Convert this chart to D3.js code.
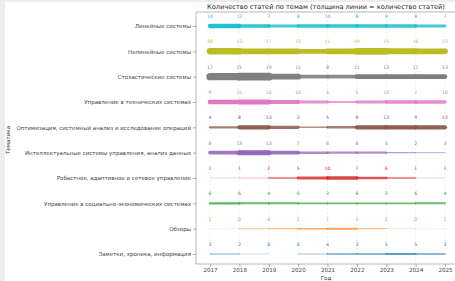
<!DOCTYPE html>
<html lang="ru">
<head>
<meta charset="UTF-8">
<title>Темы статей</title>
<script src="https://cdn.jsdelivr.net/npm/d3@7"></script>
<style>
	html,body{margin:0;padding:0;background:#ededed;}
	svg{display:block;font-family:"DejaVu Sans",sans-serif;}
</style>
</head>
<body>
<svg id="chart" width="455" height="281"></svg>
<script>
// categories, top to bottom
var topics = [
	"Линейные системы",
	"Нелинейные системы",
	"Стохастические системы",
	"Управление в технических системах",
	"Оптимизация, системный анализ и исследование операций",
	"Интеллектуальные системы управления, анализ данных",
	"Робастное, адаптивное и сетевое управление",
	"Управление в социально-экономических системах",
	"Обзоры",
	"Заметки, хроника, информация"
];
var years = [2017, 2018, 2019, 2020, 2021, 2022, 2023, 2024, 2025];

// article counts per year, one array per topic
var linear     = [10, 12, 7, 8, 10, 8, 9, 8, 7];
var nonlinear  = [20, 13, 17, 13, 11, 19, 15, 16, 13];
var stochastic = [17, 21, 19, 11, 8, 11, 13, 11, 13];
var technical  = [9, 15, 10, 10, 5, 5, 10, 7, 10];
var optim      = [4, 8, 13, 3, 5, 8, 13, 9, 12];
var intel      = [6, 13, 13, 7, 6, 6, 5, 2, 3];
var robust     = [1, 1, 2, 5, 10, 7, 6, 1, 1];
var socio      = [6, 6, 4, 6, 3, 6, 3, 6, 4];
var reviews    = [1, 0, 4, 1, 7, 3, 2, 0, 1];
var notes      = [3, 2, 0, 0, 4, 3, 5, 5, 3];

var counts = [linear, nonlinear, stochastic, technical, optim, intel, robust, socio, reviews, notes];
var colors = ["#17becf", "#bcbd22", "#7f7f7f", "#e377c2", "#8c564b",
	"#9467bd", "#d62728", "#2ca02c", "#ff7f0e", "#1f77b4"];

var svg = d3.select("#chart");
var W = 455, H = 281;
var m = {left: 196, right: -6, top: 12, bottom: 17};

svg.append("rect").attr("x", 5).attr("y", 2).attr("width", W - 5).attr("height", H - 2).attr("fill", "#fff");

var x = d3.scalePoint().domain(years).range([210, 445]);
var y = d3.scalePoint().domain(topics).range([26, 254]);

// plot frame
svg.append("rect")
	.attr("x", m.left).attr("y", m.top)
	.attr("width", W - m.right - m.left).attr("height", H - m.bottom - m.top)
	.attr("fill", "none").attr("stroke", "#999").attr("stroke-width", 0.7);

// faint vertical grid
svg.append("g").selectAll("line").data(years).enter().append("line")
	.attr("x1", d => x(d)).attr("x2", d => x(d))
	.attr("y1", m.top).attr("y2", H - m.bottom)
	.attr("stroke", "#e2e2e2").attr("stroke-width", 0.5).attr("stroke-dasharray", "2,2");

// axes
var xAxis = svg.append("g").attr("transform", "translate(0," + (H - m.bottom) + ")")
	.call(d3.axisBottom(x).tickSize(3).tickPadding(1).tickFormat(d3.format("d")));
var yAxis = svg.append("g").attr("transform", "translate(" + m.left + ",0)")
	.call(d3.axisLeft(y).tickSize(3).tickPadding(2));
[xAxis, yAxis].forEach(a => {
	a.select(".domain").remove();
	a.selectAll("line").attr("stroke", "#777").attr("stroke-width", 0.6);
	a.selectAll("text").attr("fill", "#444").style("font-family", "DejaVu Sans");
});
xAxis.selectAll("text").attr("font-size", 5.6);
yAxis.selectAll("text").attr("font-size", 5.5);

// per-segment width ~ mean count of its two ends
var wMax = 20;
counts.forEach((vals, i) => {
	var g = svg.append("g");
	var segs = d3.range(vals.length - 1).map(j => ({
		x1: years[j], x2: years[j + 1], v: (vals[j] + vals[j + 1]) / 2
	}));
	g.selectAll("line").data(segs.filter(s => s.v > 0)).enter().append("line")
		.attr("x1", s => x(s.x1)).attr("x2", s => x(s.x2))
		.attr("y1", y(topics[i])).attr("y2", y(topics[i]))
		.attr("stroke", colors[i])
		.attr("stroke-width", s => s.v * 0.39)
		.attr("stroke-linecap", "round")
		.attr("stroke-opacity", s => 0.5 + 0.5 * Math.min(1, s.v / 12));
	g.selectAll("text").data(vals).enter().append("text")
		.attr("x", (d, j) => x(years[j])).attr("y", y(topics[i]) - 8)
		.attr("text-anchor", "middle").attr("font-size", 4.6)
		.attr("fill", colors[i])
		.text(d => d);
});

// titles
svg.append("text").attr("x", 326).attr("y", 9).attr("text-anchor", "middle")
	.attr("font-size", 6.6).attr("fill", "#222")
	.text("Количество статей по темам (толщина линии = количество статей)");
svg.append("text").attr("x", 326).attr("y", 280).attr("text-anchor", "middle")
	.attr("font-size", 5.6).attr("fill", "#333").text("Год");
svg.append("text").attr("transform", "translate(10," + 140 + ") rotate(-90)")
	.attr("text-anchor", "middle").attr("font-size", 5.6).attr("fill", "#333").text("Тематика");
</script>
</body>
</html>
